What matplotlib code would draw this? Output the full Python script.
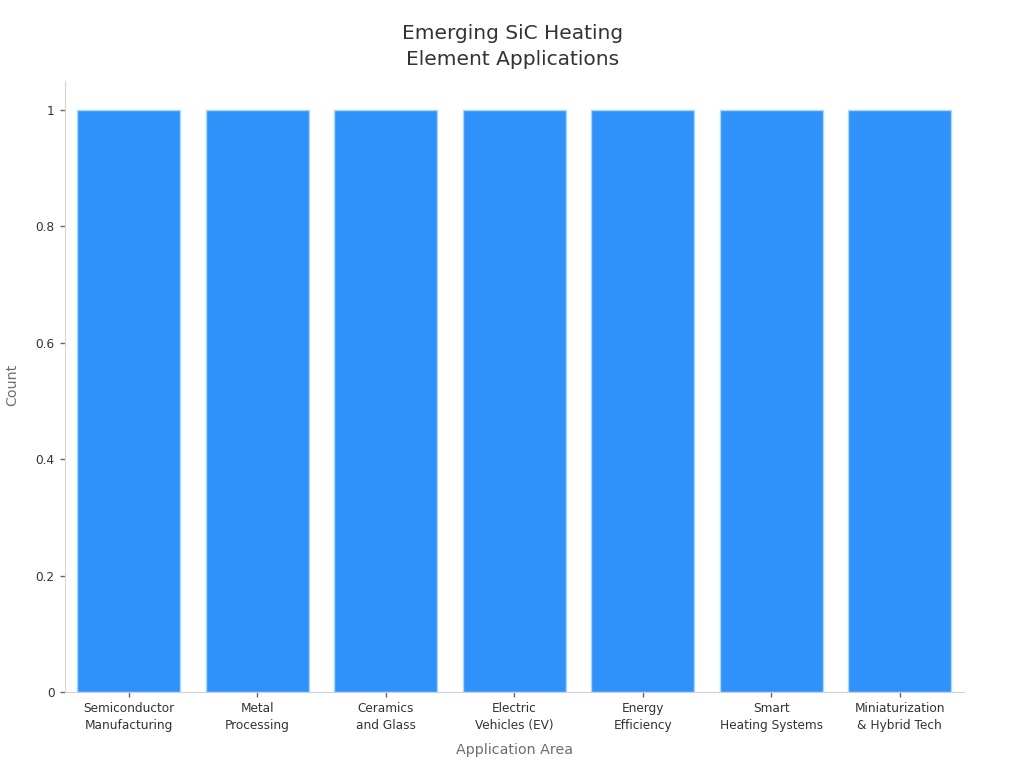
import matplotlib
matplotlib.use("Agg")
import matplotlib.pyplot as plt

# values from the picture
categories = ["Semiconductor\nManufacturing", "Metal\nProcessing", "Ceramics\nand Glass",
              "Electric\nVehicles (EV)", "Energy\nEfficiency", "Smart\nHeating Systems",
              "Miniaturization\n& Hybrid Tech"]
counts = [1, 1, 1, 1, 1, 1, 1]
y_ticks = [0, 0.2, 0.4, 0.6, 0.8, 1]
y_tick_labels = ["0", "0.2", "0.4", "0.6", "0.8", "1"]

plt.rcParams['font.family'] = 'DejaVu Sans'

fig = plt.figure(figsize=(10.24, 7.68), dpi=100)
ax = fig.add_axes([64.5 / 1024, 1 - 692 / 768, (964 - 64.5) / 1024, (692 - 81) / 768])

ax.bar(range(len(categories)), counts, width=0.8, color="#2f92fb", edgecolor="#a9d8ff", linewidth=1)

ax.set_xlim(-0.5, len(categories) - 0.5)
ax.set_ylim(0, 1.05)
ax.set_xticks(range(len(categories)))
ax.set_xticklabels(categories, fontsize=8.7, color="#333333", linespacing=1.38)
ax.set_yticks(y_ticks)
ax.set_yticklabels(y_tick_labels, fontsize=8.7, color="#333333")
ax.tick_params(axis='both', length=3.6, color="#666666", width=1, pad=3.4)

for side in ["top", "right"]:
    ax.spines[side].set_visible(False)
ax.spines["left"].set_color("#d5d5d5")
ax.spines["bottom"].set_color("#d0d0da")

fig.text(514.5 / 1024, 1 - 750 / 768, "Application Area", fontsize=10.3, color="#6e6e6e", ha="center", va="center")
fig.text(12.5 / 1024, 1 - 385 / 768, "Count", fontsize=10.3, color="#6e6e6e", ha="center", va="center", rotation=90)
fig.text(512.5 / 1024, 1 - 46.5 / 768, "Emerging SiC Heating\nElement Applications", fontsize=14.5, color="#333333",
         ha="center", va="center", linespacing=1.46)

fig.savefig("out.png", dpi=100)
